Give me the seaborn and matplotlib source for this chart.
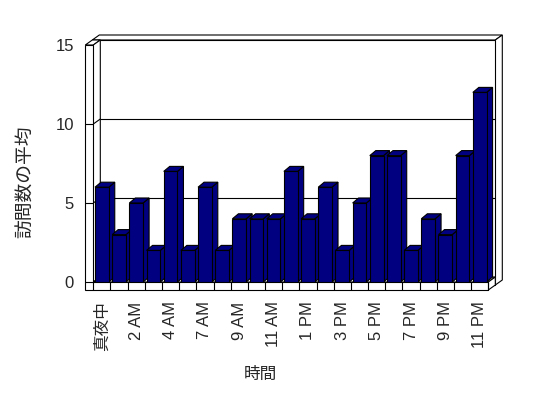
import matplotlib
matplotlib.use('Agg')
import matplotlib.pyplot as plt
import matplotlib.transforms as mtransforms
from matplotlib.patches import Polygon
from matplotlib.lines import Line2D
import numpy as np
import pandas as pd
import seaborn as sns

# data (hour 5 is not in the source table)
hours = ['真夜中', '1 AM', '2 AM', '3 AM', '4 AM', '6 AM', '7 AM', '8 AM',
         '9 AM', '10 AM', '11 AM', '正午', '1 PM', '2 PM', '3 PM', '4 PM',
         '5 PM', '6 PM', '7 PM', '8 PM', '9 PM', '10 PM', '11 PM']
visits = [6, 3, 5, 2, 7, 2, 6, 2, 4, 4, 4, 7, 4, 6, 2, 5, 8, 8, 2, 4, 3, 8, 12]
y_ticks = [0, 5, 10, 15]
x_title = '時間'
y_title = '訪問数の平均'

sns.set_style('white')
plt.rcParams['font.family'] = ['Liberation Sans', 'Noto Sans CJK JP']

NAVY = '#000080'
LW = 0.8
WALL = 8            # wall / floor thickness in pixels
DEPTH = (7, 5)      # depth offset of the walls in pixels
BAR_DEPTH = (6, 5)  # depth offset of the bars in pixels

df = pd.DataFrame({'hour': hours, 'visits': visits})

fig = plt.figure(figsize=(5.48, 3.98), dpi=100)
ax = fig.add_axes([93.3 / 548, 116 / 398, 395 / 548, 237 / 398])

sns.barplot(data=df, x='hour', y='visits', order=hours, color=NAVY,
            saturation=1, edgecolor='black', linewidth=LW, width=0.8, ax=ax)

xmin, xmax = -0.5, len(hours) - 0.5
ymin, ymax = y_ticks[0], y_ticks[-1]
ax.set_xlim(xmin, xmax)
ax.set_ylim(ymin, ymax)
ax.set_autoscale_on(False)
ax.patch.set_visible(False)
for s in ax.spines.values():
    s.set_visible(False)

ident = mtransforms.IdentityTransform()


def Q(x, y, ox=0, oy=0, depth=0, d=DEPTH):
    px, py = ax.transData.transform((x, y))
    return (px + ox + depth * d[0], py + oy + depth * d[1])


def face(pts, z, fc='white'):
    ax.add_patch(Polygon(pts, closed=True, facecolor=fc, edgecolor='black',
                         linewidth=LW, transform=ident, clip_on=False,
                         zorder=z, joinstyle='miter'))


def seg(p, q, z):
    ax.add_line(Line2D([p[0], q[0]], [p[1], q[1]], color='black',
                       linewidth=LW, transform=ident, clip_on=False, zorder=z))


t = WALL
# back wall slab
face([Q(xmin, ymax, -t, 0, 1), Q(xmax, ymax, 0, 0, 1),
      Q(xmax, ymax, 0, 0, 2), Q(xmin, ymax, -t, 0, 2)], 1)
face([Q(xmax, ymax, 0, 0, 1), Q(xmax, ymax, 0, 0, 2),
      Q(xmax, ymin, 0, -t, 2), Q(xmax, ymin, 0, -t, 1)], 1)
face([Q(xmin, ymin, -t, -t, 1), Q(xmax, ymin, 0, -t, 1),
      Q(xmax, ymax, 0, 0, 1), Q(xmin, ymax, -t, 0, 1)], 1.1)
for v in y_ticks[1:-1]:
    seg(Q(xmin, v, 0, 0, 1), Q(xmax, v, 0, 0, 1), 1.2)

# left wall top and inner face
face([Q(xmin, ymax, -t, 0, 0), Q(xmin, ymax, 0, 0, 0),
      Q(xmin, ymax, 0, 0, 1), Q(xmin, ymax, -t, 0, 1)], 2)
face([Q(xmin, ymin), Q(xmin, ymax), Q(xmin, ymax, 0, 0, 1),
      Q(xmin, ymin, 0, 0, 1)], 2)
for v in y_ticks[1:-1]:
    seg(Q(xmin, v), Q(xmin, v, 0, 0, 1), 2.1)

# floor top and right side
face([Q(xmin, ymin), Q(xmax, ymin), Q(xmax, ymin, 0, 0, 1),
      Q(xmin, ymin, 0, 0, 1)], 2)
face([Q(xmax, ymin), Q(xmax, ymin, 0, 0, 1), Q(xmax, ymin, 0, -t, 1),
      Q(xmax, ymin, 0, -t, 0)], 2)

# front faces of left wall and floor
face([Q(xmin, ymax, -t), Q(xmin, ymax), Q(xmin, ymin), Q(xmax, ymin),
      Q(xmax, ymin, 0, -t), Q(xmin, ymin, -t, -t)], 3)
for k in range(len(hours) + 1):
    seg(Q(xmin + k, ymin), Q(xmin + k, ymin, 0, -t), 3.1)
for v in y_ticks[:-1]:
    seg(Q(xmin, v, -t), Q(xmin, v), 3.1)

# bars: side and top faces from the seaborn rectangles
for i, bar in enumerate(ax.patches[:len(hours)]):
    x0 = bar.get_x()
    x1 = x0 + bar.get_width()
    h = bar.get_height()
    z = 10 + 3 * i
    face([Q(x1, 0), Q(x1, h), Q(x1, h, depth=1, d=BAR_DEPTH),
          Q(x1, 0, depth=1, d=BAR_DEPTH)], z, NAVY)
    face([Q(x0, h), Q(x1, h), Q(x1, h, depth=1, d=BAR_DEPTH),
          Q(x0, h, depth=1, d=BAR_DEPTH)], z + 1, NAVY)
    bar.set_zorder(z + 2)

ax.set_xticks(range(0, len(hours), 2))
ax.set_xticklabels(hours[::2], rotation=90, fontsize=12)
ax.set_yticks(y_ticks)
ax.set_yticklabels([str(v) for v in y_ticks], fontsize=12)
ax.tick_params(axis='x', length=0, pad=14)
ax.tick_params(axis='y', length=0, pad=14)

ax.set_xlabel(x_title, fontsize=12)
ax.set_ylabel(y_title, fontsize=13.5)
ax.xaxis.set_label_coords(0.422, -0.36)
ax.yaxis.set_label_coords(-0.1476, 0.422)

fig.savefig('out.png', dpi=100, facecolor='white')
